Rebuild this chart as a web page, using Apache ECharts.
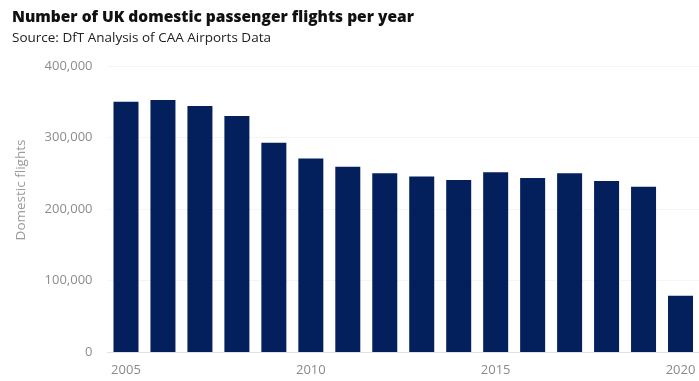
<!DOCTYPE html>
<html><head><meta charset="utf-8">
<script src="https://cdn.jsdelivr.net/npm/echarts@6/dist/echarts.min.js"></script>
<style>html,body{margin:0;padding:0;background:#fff;}#c{width:699px;height:381px;}</style>
</head><body><div id="c"></div>
<script>
const years = ['2005','2006','2007','2008','2009','2010','2011','2012','2013','2014','2015','2016','2017','2018','2019','2020'];
const flights = [350000, 352500, 344000, 330000, 292500, 270500, 259000, 250000, 245500, 240500, 251500, 243500, 250000, 239000, 231000, 78500];
const yTicks = [0, 100000, 200000, 300000, 400000];
const titleText = 'Number of UK domestic passenger flights per year';
const subtitleText = 'Source: DfT Analysis of CAA Airports Data';
const yName = 'Domestic flights';

const font = '"Open Sans", "Noto Sans", sans-serif';
const chart = echarts.init(document.getElementById('c'));
chart.setOption({
  animation: false,
  title: {
    text: titleText, subtext: subtitleText, left: 7, top: 5,
    itemGap: 5,
    textStyle: {fontFamily: font, fontWeight: 800, fontSize: 15.5, color: '#111'},
    subtextStyle: {fontFamily: font, fontSize: 13.5, color: '#222'}
  },
  graphic: [{
    type: 'text', x: 21, y: 190, rotation: Math.PI / 2,
    style: {text: yName, font: '13.5px ' + font, fill: '#9a9a9a', align: 'center', verticalAlign: 'middle'}
  }],
  grid: {left: 107.5, right: -7, top: 66, bottom: 29, containLabel: false},
  xAxis: {
    type: 'category', data: years,
    axisLine: {show: true, lineStyle: {color: '#e2e2e2'}},
    axisTick: {show: false},
    axisLabel: {
      interval: 0, margin: 12, fontFamily: font, fontSize: 13, color: '#8a8a8a',
      formatter: v => (+v % 5 === 0 ? v : '')
    },
    splitLine: {show: false}
  },
  yAxis: {
    type: 'value', min: yTicks[0], max: yTicks[yTicks.length - 1], interval: 100000,
    axisLine: {show: false}, axisTick: {show: false},
    axisLabel: {margin: 15, fontFamily: font, fontSize: 13, color: '#8c8c8c',
      formatter: v => v.toLocaleString('en-GB')},
    splitLine: {show: true, lineStyle: {color: '#f5f5f5'}}
  },
  series: [{
    type: 'bar', data: flights, barWidth: 25,
    itemStyle: {color: '#03205d'}
  }]
});
</script></body></html>
